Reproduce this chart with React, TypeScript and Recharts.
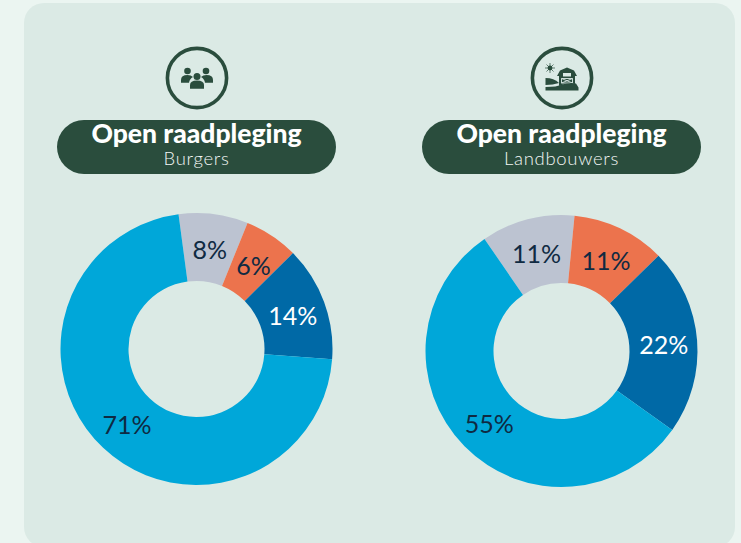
import React from "react";
import { PieChart, Pie, Cell } from "recharts";

const segments = ["Neutraal", "Oneens", "Eens", "Helemaal eens"];
const burgerValues = [8.2, 6.4, 13.6, 71.4];
const boerValues = [11, 11, 22, 55];
const colors = ["#bcc3d1", "#ec734d", "#0069a6", "#00a7d9"];
const labelColors = ["#0f2a42", "#0f2a42", "#ffffff", "#0f2a42"];

const burgerData = segments.map((name, i) => ({ name, value: burgerValues[i] }));
const boerData = segments.map((name, i) => ({ name, value: boerValues[i] }));

const FONT = "Lato, sans-serif";
const GREEN = "#2a4d3d";
const PANEL = "#dbeae5";
const RAD = Math.PI / 180;

const renderLabel = (props: any) => {
  const { cx, cy, midAngle, innerRadius, outerRadius, index, value } = props;
  const r = (innerRadius + outerRadius) / 2;
  return (
    <text
      x={cx + r * Math.cos(-midAngle * RAD) + 0.5}
      y={cy + r * Math.sin(-midAngle * RAD) + 1}
      fill={labelColors[index]}
      textAnchor="middle"
      dominantBaseline="central"
      fontFamily={FONT}
      fontSize={25}
      letterSpacing={0}
    >
      {Math.round(value)}%
    </text>
  );
};

const PeopleIcon = () => (
  <g fill={GREEN}>
    <circle cx={-9.5} cy={-7} r={3.3} />
    <circle cx={9} cy={-7} r={3.3} />
    <path d="M-16 4.8 V2 Q-16 -3 -9.5 -3 Q-6 -3 -4 -1 Q-7.5 1 -8 4.8 Z" />
    <path d="M16 4.8 V2 Q16 -3 9.5 -3 Q6 -3 4 -1 Q7.5 1 8 4.8 Z" />
    <circle cx={0} cy={-1.5} r={3.5} />
    <path d="M-7 10.8 V7 Q-7 2.5 0 2.5 Q7 2.5 7 7 V10.8 Z" />
  </g>
);

const BarnIcon = () => (
  <g fill={GREEN}>
    <circle cx={-12} cy={-10} r={2.4} />
    <path d="M-12 -15 V-5 M-17 -10 H-7 M-15.5 -13.5 L-8.5 -6.5 M-8.5 -13.5 L-15.5 -6.5" stroke={GREEN} strokeWidth={0.7} />
    <path d="M-3 8 V-2 L-5 -2 L-2 -7.5 L5 -10.5 L12 -7.5 L15 -2 L13 -2 V6 Q5 4 -3 8 Z" />
    <rect x={1} y={-5} width={8} height={3.5} fill={PANEL} />
    <path d="M-0.5 0.5 H10.5 V5 H-0.5 Z M-0.5 0.5 L10.5 5 M10.5 0.5 L-0.5 5" stroke={PANEL} strokeWidth={0.9} fill="none" />
    <path d="M-16.5 0 Q-8 0 -3 5 Q-9 7 -16.5 7 Z" />
    <path d="M-16.5 9 Q-5 9 0 6.5 Q8 4 14 5.5 L16.5 9.5 V12.5 H-16.5 Z" />
  </g>
);

const Header = ({ x, subtitle, icon }: { x: number; subtitle: string; icon: React.ReactNode }) => (
  <>
    <svg style={{ position: "absolute", left: x - 35, top: 42.5 }} width={70} height={70} viewBox="-35 -35 70 70">
      <circle r={29.6} fill="none" stroke={GREEN} strokeWidth={3.6} />
      {icon}
    </svg>
    <div
      style={{
        position: "absolute",
        left: x - 139.5,
        top: 120,
        width: 279,
        height: 54,
        borderRadius: 27,
        background: GREEN,
        color: "#fff",
        textAlign: "center",
        fontFamily: FONT,
      }}
    >
      <div style={{ position: "absolute", top: 0, left: 0, width: "100%", fontSize: 26.5, lineHeight: "27px", fontWeight: 900, letterSpacing: 0 }}>
        Open raadpleging
      </div>
      <div style={{ position: "absolute", top: 27, left: 0, width: "100%", fontSize: 18.5, lineHeight: "22px", fontWeight: 300, color: "#f2f6f4", letterSpacing: 0.7 }}>
        {subtitle}
      </div>
    </div>
  </>
);

export default function App() {
  return (
    <div style={{ position: "fixed", left: 0, top: 0, width: 741, height: 543, overflow: "hidden", background: "#ebf5f1" }}>
      <div style={{ position: "absolute", left: 24, top: 3, width: 711, height: 544, borderRadius: 20, background: PANEL }} />
      <Header x={196.5} subtitle="Burgers" icon={<PeopleIcon />} />
      <Header x={561.5} subtitle="Landbouwers" icon={<BarnIcon />} />
      <div style={{ position: "absolute", left: 0, top: 0 }}>
        <PieChart width={741} height={543} margin={{ top: 0, right: 0, bottom: 0, left: 0 }}>
          <Pie
            data={burgerData}
            dataKey="value"
            nameKey="name"
            cx={196.5}
            cy={349}
            innerRadius={68}
            outerRadius={136}
            startAngle={97.6}
            endAngle={-262.4}
            stroke="none"
            label={renderLabel}
            labelLine={false}
            isAnimationActive={false}
          >
            {burgerData.map((d, i) => (
              <Cell key={d.name} fill={colors[i]} />
            ))}
          </Pie>
          <Pie
            data={boerData}
            dataKey="value"
            nameKey="name"
            cx={561.5}
            cy={351}
            innerRadius={68}
            outerRadius={136}
            startAngle={124.5}
            endAngle={-235.5}
            stroke="none"
            label={renderLabel}
            labelLine={false}
            isAnimationActive={false}
          >
            {boerData.map((d, i) => (
              <Cell key={d.name} fill={colors[i]} />
            ))}
          </Pie>
        </PieChart>
      </div>
    </div>
  );
}
